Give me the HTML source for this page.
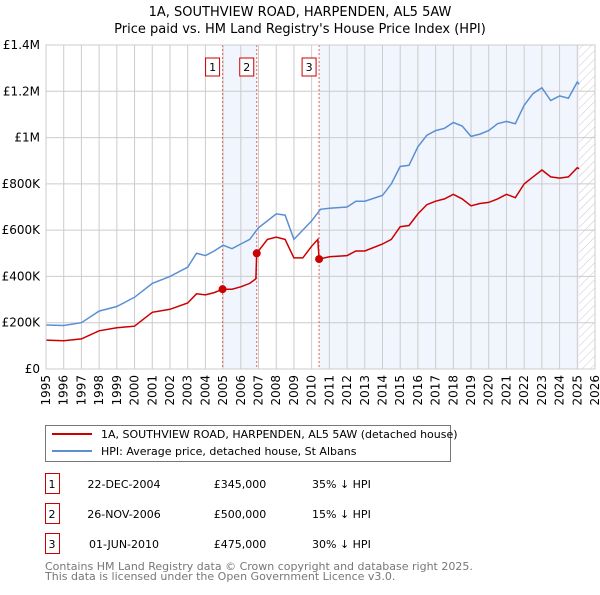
<!DOCTYPE html>
<html><head><meta charset="utf-8"><style>
body{margin:0;background:#fff;font-family:"Liberation Sans","DejaVu Sans",sans-serif;}
svg text{font-family:"DejaVu Sans","Liberation Sans",sans-serif;}
</style></head><body>
<svg width="600" height="590" xmlns="http://www.w3.org/2000/svg" id="chart">
<defs><pattern id="hatch" width="6" height="6" patternUnits="userSpaceOnUse" patternTransform="rotate(45)"><line x1="0" y1="0" x2="0" y2="6" stroke="#bbb" stroke-width="0.8"/></pattern></defs>
<text x="300" y="16" text-anchor="middle" font-size="13">1A, SOUTHVIEW ROAD, HARPENDEN, AL5 5AW</text>
<text x="300" y="33" text-anchor="middle" font-size="13">Price paid vs. HM Land Registry's House Price Index (HPI)</text>
<g id="plot"></g>
<g>
<rect x="45.5" y="425.5" width="405" height="36" fill="#fff" stroke="#777"/>
<line x1="52" y1="434" x2="92" y2="434" stroke="#cc0000" stroke-width="2"/>
<text x="101" y="438" font-size="11">1A, SOUTHVIEW ROAD, HARPENDEN, AL5 5AW (detached house)</text>
<line x1="52" y1="451" x2="92" y2="451" stroke="#5b8fd4" stroke-width="2"/>
<text x="101" y="455" font-size="11">HPI: Average price, detached house, St Albans</text>
</g>
<g id="table" font-size="11"></g>
<text x="45" y="570" font-size="11" fill="#777">Contains HM Land Registry data © Crown copyright and database right 2025.</text>
<text x="45" y="580" font-size="11" fill="#777">This data is licensed under the Open Government Licence v3.0.</text>
</svg>
<script>
const hpiYears=[1995,1996,1997,1998,1999,2000,2001,2002,2003,2003.5,2004,2004.5,2005,2005.5,2006,2006.5,2007,2007.5,2008,2008.5,2009,2009.5,2010,2010.5,2011,2012,2012.5,2013,2014,2014.5,2015,2015.5,2016,2016.5,2017,2017.5,2018,2018.5,2019,2019.5,2020,2020.5,2021,2021.5,2022,2022.5,2023,2023.5,2024,2024.5,2025,2025.1];
const hpiValues=[190,188,200,250,270,310,370,400,440,500,490,510,535,520,540,560,610,640,670,665,560,600,640,690,695,700,725,725,750,800,875,880,960,1010,1030,1040,1065,1050,1005,1015,1030,1060,1070,1060,1140,1190,1215,1160,1180,1170,1240,1230];
const priceYears=[1995,1996,1997,1998,1999,2000,2000.5,2001,2002,2003,2003.5,2004,2004.5,2004.97,2005.5,2006,2006.5,2006.85,2006.9,2007.5,2008,2008.5,2009,2009.5,2010,2010.35,2010.42,2011,2012,2012.5,2013,2014,2014.5,2015,2015.5,2016,2016.5,2017,2017.5,2018,2018.5,2019,2019.5,2020,2020.5,2021,2021.5,2022,2022.5,2023,2023.5,2024,2024.5,2025,2025.1];
const priceValues=[125,122,130,165,178,185,215,245,258,285,325,320,330,345,345,355,370,390,500,560,570,560,480,480,530,560,475,485,490,510,510,540,560,615,620,670,710,725,735,755,735,705,715,720,735,755,740,800,830,860,830,825,830,870,865];
const saleLabels=["1","2","3"];
const saleYears=[2004.97,2006.9,2010.42];
const saleValues=[345,500,475];
const saleDates=["22-DEC-2004","26-NOV-2006","01-JUN-2010"];
const salePrices=["£345,000","£500,000","£475,000"];
const saleDiffs=["35% ↓ HPI","15% ↓ HPI","30% ↓ HPI"];
const yTicks=[0,200,400,600,800,1000,1200,1400];
const yTickLabels=["£0","£200K","£400K","£600K","£800K","£1M","£1.2M","£1.4M"];
const xStart=1995,xEnd=2026,dataEnd=2025.1;

const NS="http://www.w3.org/2000/svg";
const L=46,R=595,T=45,B=369;
const x=v=>L+(v-xStart)/(xEnd-xStart)*(R-L);
const y=v=>B-v/1400*(B-T);
const plot=document.getElementById('plot');
function mk(tag,attrs,parent){const e=document.createElementNS(NS,tag);for(const k in attrs)e.setAttribute(k,attrs[k]);(parent||plot).appendChild(e);return e;}
// shading
let s=mk('rect',{x:x(saleYears[0]),y:T,width:x(saleYears[1])-x(saleYears[0]),height:B-T,fill:'#eef3fc',opacity:0.8});


s=mk('rect',{x:x(saleYears[2]),y:T,width:x(dataEnd)-x(saleYears[2]),height:B-T,fill:'#eef3fc',opacity:0.8});


s=mk('rect',{x:x(dataEnd),y:T,width:R-x(dataEnd),height:B-T,fill:'url(#hatch)'});


// grid
for(let yr=xStart;yr<=xEnd;yr++){
 const g=mk('line',{x1:x(yr),x2:x(yr),y1:T,y2:B,stroke:'#ccc','stroke-width':1});
 
 
 const t=mk('text',{x:0,y:0,'font-size':12,'text-anchor':'end',transform:`translate(${x(yr)+4},${B+6}) rotate(-90)`});
 t.textContent=yr;
 
 
}
yTicks.forEach((v,i)=>{
 const g=mk('line',{x1:L,x2:R,y1:y(v),y2:y(v),stroke:'#ccc','stroke-width':1});
 
 
 const t=mk('text',{x:L-6,y:y(v)+4,'font-size':12,'text-anchor':'end'});
 t.textContent=yTickLabels[i];
 
 
});
// sale vlines
saleYears.forEach((yr,i)=>{
 const l=mk('line',{x1:x(yr),x2:x(yr),y1:T,y2:B,stroke:'#e06060','stroke-width':1,'stroke-dasharray':'2,2'});
 
 
 const bx=x(yr)-(i==2?10:i==0?10:10)-(i==0?2:0);
 const r=mk('rect',{x:x(yr)-17,y:58,width:14,height:18,fill:'#fff',stroke:'#cc0000'});
 
 
 const t=mk('text',{x:x(yr)-10,y:71,'font-size':11,'text-anchor':'middle'});
 t.textContent=saleLabels[i];
 
 
});
function pts(xs,vs){return xs.map((a,i)=>x(a).toFixed(1)+','+y(vs[i]).toFixed(1)).join(' ');}
let p=mk('polyline',{points:pts(hpiYears,hpiValues),fill:'none',stroke:'#5b8fd4','stroke-width':1.5});


p=mk('polyline',{points:pts(priceYears,priceValues),fill:'none',stroke:'#cc0000','stroke-width':1.5});


saleYears.forEach((yr,i)=>{
 const c=mk('circle',{cx:x(yr),cy:y(saleValues[i]),r:4,fill:'#cc0000'});
 
 
});
mk('rect',{x:L,y:T,width:R-L,height:B-T,fill:'none',stroke:'#ccc'});
// table
const tb=document.getElementById('table');
saleLabels.forEach((lab,i)=>{
 const cy=485+i*30;
 const r=mk('rect',{x:45.5,y:cy-11.5,width:14,height:20,fill:'#fff',stroke:'#cc0000'},tb);
 
 
 const cells=[[52,lab,'middle'],[124,saleDates[i],'middle'],[240,salePrices[i],'middle'],[312,saleDiffs[i],'start']];
 cells.forEach(c=>{
  const t=mk('text',{x:c[0],y:cy+3,'text-anchor':c[2]},tb);
  t.textContent=c[1];
  
  
 });
});
</script>
</body></html>
